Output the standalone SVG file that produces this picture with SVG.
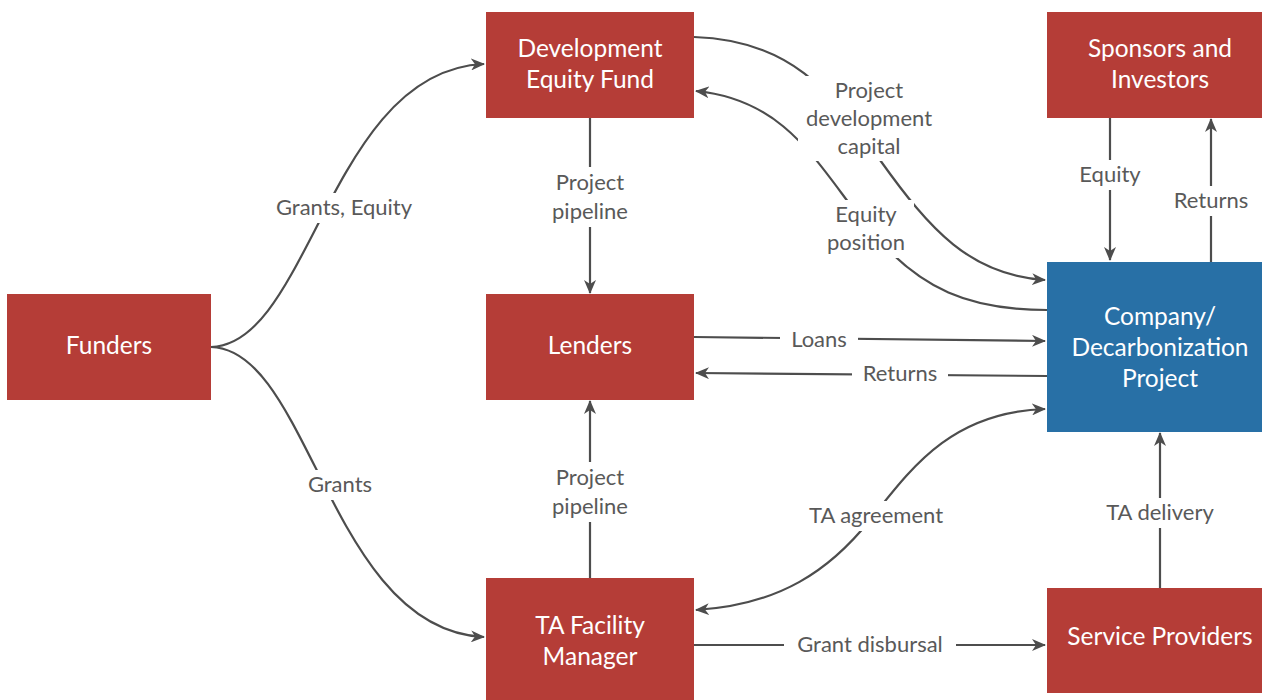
<svg xmlns="http://www.w3.org/2000/svg" width="1262" height="700" viewBox="0 0 1262 700">
<defs>
<style>
.red{fill:#B53D37}
.blue{fill:#2870A6}
.nt{font-family:Lato,"Open Sans","Liberation Sans",sans-serif;font-size:24.5px;fill:#fff;text-anchor:middle}
.lt{font-family:Lato,"Open Sans","Liberation Sans",sans-serif;font-size:22px;fill:#595959;text-anchor:middle}
.ln{fill:none;stroke:#4d4d4d;stroke-width:2.2}
.bg{fill:#fff}
</style>
<marker id="ah" viewBox="0 0 14 12" refX="13" refY="6" markerWidth="14" markerHeight="12" markerUnits="userSpaceOnUse" orient="auto-start-reverse">
<path d="M0,0 L14,6 L0,12 L4,6 z" fill="#4d4d4d"/>
</marker>
</defs>
<g id="connectors">
<path class="ln" d="M211,347 C310,345 330,70 484,64" marker-end="url(#ah)"/>
<path class="ln" d="M211,347 C310,349 330,630 484,637" marker-end="url(#ah)"/>
<path class="ln" d="M590,118 L590,293" marker-end="url(#ah)"/>
<path class="ln" d="M590,578 L590,401" marker-end="url(#ah)"/>
<path class="ln" d="M694,337 L1045,341" marker-end="url(#ah)"/>
<path class="ln" d="M1047,376 L696,373" marker-end="url(#ah)"/>
<path class="ln" d="M694,37 C790,40 830,90 880,160 C930,230 970,275 1045,280" marker-end="url(#ah)"/>
<path class="ln" d="M1047,310 C970,310 920,290 870,230 C820,170 790,100 696,91" marker-end="url(#ah)"/>
<path class="ln" d="M1110,118 L1110,260" marker-end="url(#ah)"/>
<path class="ln" d="M1211,262 L1211,119" marker-end="url(#ah)"/>
<path class="ln" d="M696,610 C780,605 830,570 870,520 C910,470 950,412 1045,409" marker-start="url(#ah)" marker-end="url(#ah)"/>
<path class="ln" d="M694,645 L1045,645" marker-end="url(#ah)"/>
<path class="ln" d="M1160,588 L1160,433" marker-end="url(#ah)"/>
<g id="label-bgs">
<rect class="bg" x="268" y="193" width="152" height="30"/>
<rect class="bg" x="300" y="470" width="80" height="30"/>
<rect class="bg" x="544" y="167" width="92" height="60"/>
<rect class="bg" x="544" y="462" width="92" height="60"/>
<rect class="bg" x="780" y="325" width="78" height="30"/>
<rect class="bg" x="852" y="359" width="96" height="30"/>
<rect class="bg" x="798" y="76" width="142" height="85"/>
<rect class="bg" x="820" y="200" width="94" height="58"/>
<rect class="bg" x="1072" y="160" width="76" height="30"/>
<rect class="bg" x="1166" y="186" width="90" height="30"/>
<rect class="bg" x="798" y="501" width="156" height="30"/>
<rect class="bg" x="784" y="630" width="172" height="30"/>
<rect class="bg" x="1096" y="498" width="128" height="30"/>
</g>
<g id="labels">
<text class="lt" x="344" y="215">Grants, Equity</text>
<text class="lt" x="340" y="492">Grants</text>
<text class="lt" x="590" y="190">Project</text>
<text class="lt" x="590" y="219">pipeline</text>
<text class="lt" x="590" y="485">Project</text>
<text class="lt" x="590" y="514">pipeline</text>
<text class="lt" x="819" y="347">Loans</text>
<text class="lt" x="900" y="381">Returns</text>
<text class="lt" x="869" y="98">Project</text>
<text class="lt" x="869" y="126">development</text>
<text class="lt" x="869" y="154">capital</text>
<text class="lt" x="866" y="222">Equity</text>
<text class="lt" x="866" y="250">position</text>
<text class="lt" x="1110" y="182">Equity</text>
<text class="lt" x="1211" y="208">Returns</text>
<text class="lt" x="876" y="523">TA agreement</text>
<text class="lt" x="870" y="652">Grant disbursal</text>
<text class="lt" x="1160" y="520">TA delivery</text>
</g>
</g>
<g id="funders"><rect class="red" x="7" y="294" width="204" height="106"/><text class="nt" x="109" y="354">Funders</text></g>
<g id="def"><rect class="red" x="486" y="12" width="208" height="106"/><text class="nt" x="590" y="57">Development</text><text class="nt" x="590" y="88">Equity Fund</text></g>
<g id="lenders"><rect class="red" x="486" y="294" width="208" height="106"/><text class="nt" x="590" y="354">Lenders</text></g>
<g id="ta"><rect class="red" x="486" y="578" width="208" height="122"/><text class="nt" x="590" y="634">TA Facility</text><text class="nt" x="590" y="665">Manager</text></g>
<g id="sponsors"><rect class="red" x="1047" y="12" width="215" height="106"/><text class="nt" x="1160" y="57">Sponsors and</text><text class="nt" x="1160" y="88">Investors</text></g>
<g id="company"><rect class="blue" x="1047" y="262" width="215" height="170"/><text class="nt" x="1160" y="325">Company/</text><text class="nt" x="1160" y="356">Decarbonization</text><text class="nt" x="1160" y="387">Project</text></g>
<g id="service"><rect class="red" x="1047" y="588" width="215" height="105"/><text class="nt" x="1160" y="645">Service Providers</text></g>
</svg>
